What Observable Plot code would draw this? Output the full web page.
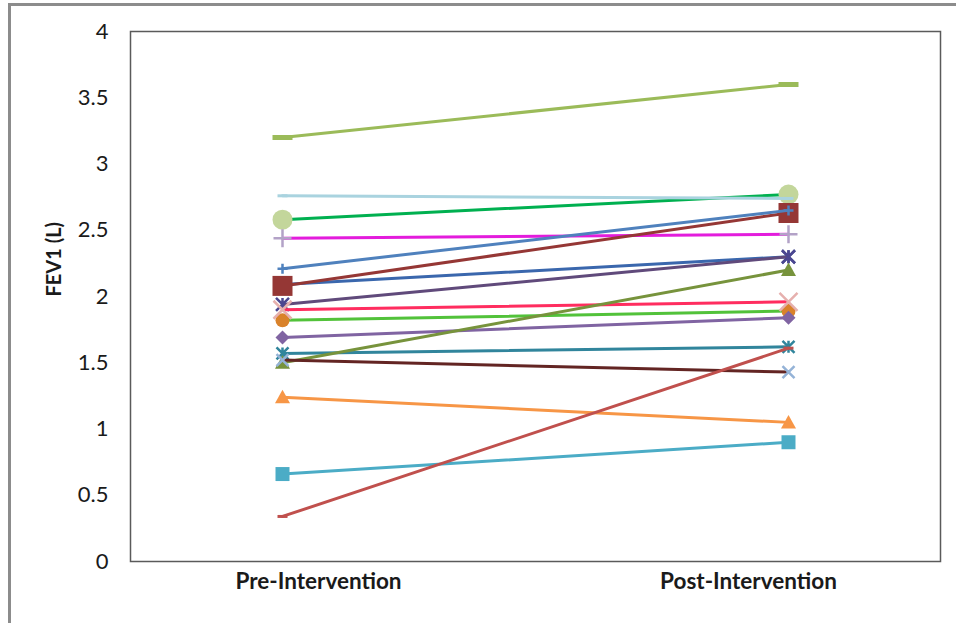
<!DOCTYPE html>
<html>
<head>
<meta charset="utf-8">
<script src="https://cdn.jsdelivr.net/npm/d3@7"></script>
<script src="https://cdn.jsdelivr.net/npm/@observablehq/plot@0.6"></script>
<style>
  html, body { margin: 0; padding: 0; background: #fff; overflow: hidden; }
  #wrap { position: relative; width: 956px; height: 623px; }
  #frame { position: absolute; left: 8px; top: 3px; width: 980px; height: 660px;
           border-top: 3px solid #8c8c8c; border-left: 3px solid #8c8c8c; }
  #wrap svg { position: absolute; left: 0; top: 0; }
</style>
</head>
<body>
<div id="wrap"><div id="frame"></div></div>
<script>
// ---- data ----
const categories = ["Pre-Intervention", "Post-Intervention"];
const preValues  = [3.20, 2.58, 2.76, 2.44, 2.09, 2.08, 2.21, 1.94, 1.82, 1.69, 1.90, 1.57, 1.50, 1.52, 1.24, 0.66, 0.34];
const postValues = [3.60, 2.77, 2.74, 2.47, 2.30, 2.63, 2.65, 2.30, 1.89, 1.84, 1.96, 1.62, 2.20, 1.43, 1.05, 0.90, 1.61];
const yTicks = [0, 0.5, 1, 1.5, 2, 2.5, 3, 3.5, 4];
const yLabel = "FEV1 (L)";

// ---- styles (per series, same order) ----
const lineColors   = ["#9BBB59", "#00B050", "#A9D3DF", "#E31CDC", "#3A67AD", "#953735", "#4F81BD", "#604A7B", "#52C23A",
                      "#8064A2", "#FF2D5F", "#31859C", "#77933C", "#632523", "#F79646", "#4BACC6", "#C0504D"];
const markerColors = ["#9BBB59", "#C3D69B", "#A9D3DF", "#B3A2C7", "#3C4F93", "#953735", "#4F81BD", "#4B4690", "#D9822B",
                      "#8064A2", "#E6B0AE", "#31859C", "#77933C", "#95B3D7", "#F79646", "#4BACC6", "#C0504D"];
const markerKinds  = ["dash", "circle", "dash", "plus", "star", "square", "plus", "star", "circle",
                      "diamond", "x", "star", "triangle", "x", "triangle", "square", "dash"];
const markerRadii  = [10, 10, 5, 9, 6.5, 10, 5, 6.5, 7, 7, 9, 6, 7.5, 6, 7.5, 7, 5];

// custom marker shapes (half-width = Plot r)
function makeSymbol(kind) {
  return {
    draw(ctx, size) {
      const r = Math.sqrt(size / Math.PI);
      if (kind === "dash") { const h = Math.max(3, r * 0.5); ctx.rect(-r, -h / 2, 2 * r, h); }
      else if (kind === "square") { ctx.rect(-r, -r, 2 * r, 2 * r); }
      else if (kind === "circle") { ctx.moveTo(r, 0); ctx.arc(0, 0, r, 0, 2 * Math.PI); }
      else if (kind === "diamond") { ctx.moveTo(0, -r); ctx.lineTo(r, 0); ctx.lineTo(0, r); ctx.lineTo(-r, 0); ctx.closePath(); }
      else if (kind === "triangle") { ctx.moveTo(0, -r); ctx.lineTo(r, r * 0.8); ctx.lineTo(-r, r * 0.8); ctx.closePath(); }
      else if (kind === "plus") { ctx.moveTo(-r, 0); ctx.lineTo(r, 0); ctx.moveTo(0, -r); ctx.lineTo(0, r); }
      else if (kind === "x") { ctx.moveTo(-r, -r); ctx.lineTo(r, r); ctx.moveTo(r, -r); ctx.lineTo(-r, r); }
      else if (kind === "star") { ctx.moveTo(-r, -r); ctx.lineTo(r, r); ctx.moveTo(r, -r); ctx.lineTo(-r, r); ctx.moveTo(0, -r); ctx.lineTo(0, r); }
    }
  };
}
const strokeKinds = new Set(["plus", "x", "star"]);

const seriesMarks = [];
preValues.forEach((pre, i) => {
  const rows = [{cat: categories[0], v: pre}, {cat: categories[1], v: postValues[i]}];
  seriesMarks.push(Plot.line(rows, {x: "cat", y: "v", stroke: lineColors[i], strokeWidth: 3}));
  const kind = markerKinds[i];
  const isStroke = strokeKinds.has(kind);
  seriesMarks.push(Plot.dot(rows, {
    x: "cat", y: "v", symbol: makeSymbol(kind), r: markerRadii[i],
    fill: isStroke ? "none" : markerColors[i],
    stroke: isStroke ? markerColors[i] : "none",
    strokeWidth: isStroke ? 2.5 : 0
  }));
});

const font = "Lato, 'Open Sans', sans-serif";
const chart = Plot.plot({
  width: 956, height: 623,
  marginLeft: 130, marginRight: 16, marginTop: 31, marginBottom: 62,
  x: {type: "point", domain: categories, padding: 0.3},
  y: {domain: [0, 4]},
  style: {fontFamily: font, background: "transparent", color: "#1a1a1a"},
  marks: [
    Plot.frame({stroke: "#5a5a5a", strokeWidth: 1.5}),
    Plot.axisY(yTicks, {tickSize: 0, tickPadding: 22, fontSize: 22, tickFormat: d => String(d), label: null}),
    Plot.axisX([categories[0]], {tickSize: 0, tickPadding: 12, fontSize: 22.5, fontWeight: "bold", dx: 36, label: null}),
    Plot.axisX([categories[1]], {tickSize: 0, tickPadding: 12, fontSize: 22.5, fontWeight: "bold", dx: -40, label: null}),
    Plot.text([yLabel], {text: d => d, frameAnchor: "left", dx: -76, rotate: -90, fontSize: 20, fontWeight: "bold"}),
    ...seriesMarks
  ]
});
document.getElementById("wrap").appendChild(chart);
</script>
</body>
</html>
